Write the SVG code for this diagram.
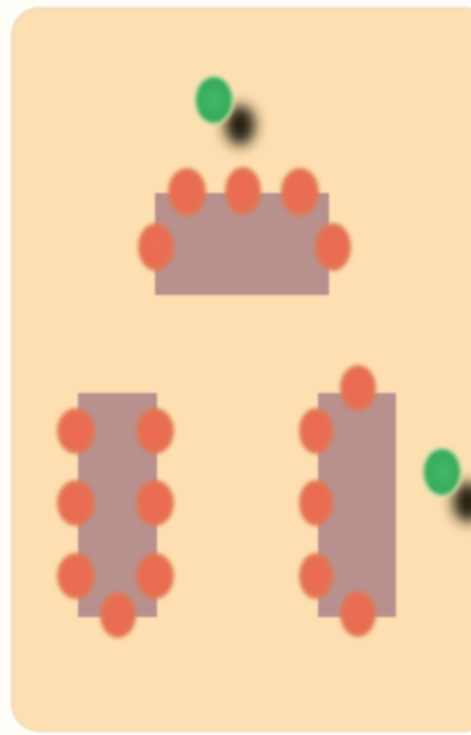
<svg xmlns="http://www.w3.org/2000/svg" width="471" height="735" viewBox="0 0 471 735">
<defs>
<filter id="soft" x="-30%" y="-30%" width="160%" height="160%"><feGaussianBlur stdDeviation="2.2"/></filter>
<filter id="edge" x="-10%" y="-10%" width="120%" height="120%"><feGaussianBlur stdDeviation="1.3"/></filter>
<filter id="shadow" x="-100%" y="-100%" width="300%" height="300%"><feGaussianBlur stdDeviation="7"/></filter>
<radialGradient id="seatFill"><stop offset="0" stop-color="#ee6c58"/><stop offset="0.7" stop-color="#e86c52"/><stop offset="1" stop-color="#e07a50"/></radialGradient>
<radialGradient id="personFill"><stop offset="0" stop-color="#44b866"/><stop offset="1" stop-color="#34a85a"/></radialGradient>
</defs>
<style>
.table{fill:#b8908e;filter:url(#edge)}
.seat{fill:url(#seatFill);filter:url(#soft)}
.person{fill:url(#personFill);filter:url(#soft)}
.halo{fill:#e4e8b0;filter:url(#soft)}
.dark{fill:#211a08;filter:url(#shadow)}
</style>
<rect width="471" height="735" fill="#fffdf8"/>
<rect x="11" y="7" width="480" height="725" rx="28" fill="#ecdcc0" filter="url(#edge)"/>
<rect id="floor" x="13" y="9" width="480" height="722" rx="27" fill="#fddfb2" filter="url(#edge)"/>
<g id="table-top">
<rect class="table" x="155" y="193" width="174" height="102"/>
<ellipse class="seat" cx="187" cy="192" rx="19" ry="24"/>
<ellipse class="seat" cx="243" cy="191" rx="18" ry="24"/>
<ellipse class="seat" cx="300" cy="192" rx="19" ry="24"/>
<ellipse class="seat" cx="156" cy="247" rx="18" ry="24"/>
<ellipse class="seat" cx="333" cy="247" rx="18" ry="24"/>
</g>
<g id="table-left">
<rect class="table" x="78" y="393" width="79" height="224"/>
<ellipse class="seat" cx="76" cy="431" rx="19" ry="23"/>
<ellipse class="seat" cx="155" cy="431" rx="19" ry="23"/>
<ellipse class="seat" cx="76" cy="503" rx="19" ry="23"/>
<ellipse class="seat" cx="155" cy="503" rx="19" ry="23"/>
<ellipse class="seat" cx="76" cy="576" rx="19" ry="23"/>
<ellipse class="seat" cx="155" cy="576" rx="19" ry="23"/>
<ellipse class="seat" cx="118" cy="615" rx="18" ry="23"/>
</g>
<g id="table-right">
<rect class="table" x="318" y="393" width="78" height="224"/>
<ellipse class="seat" cx="358" cy="388" rx="18" ry="23"/>
<ellipse class="seat" cx="316" cy="431" rx="17" ry="23"/>
<ellipse class="seat" cx="316" cy="503" rx="17" ry="23"/>
<ellipse class="seat" cx="316" cy="576" rx="17" ry="23"/>
<ellipse class="seat" cx="358" cy="614" rx="18" ry="23"/>
</g>
<g id="person-top">
<ellipse class="dark" cx="240" cy="125" rx="15" ry="20"/>
<ellipse class="halo" cx="214" cy="100" rx="20" ry="25"/>
<ellipse class="person" cx="214" cy="100" rx="18" ry="23"/>
</g>
<g id="person-right">
<ellipse class="dark" cx="468" cy="502" rx="15" ry="20"/>
<ellipse class="halo" cx="442" cy="472" rx="20" ry="25"/>
<ellipse class="person" cx="442" cy="472" rx="18" ry="23"/>
</g>
<g id="connectors"/>
</svg>
